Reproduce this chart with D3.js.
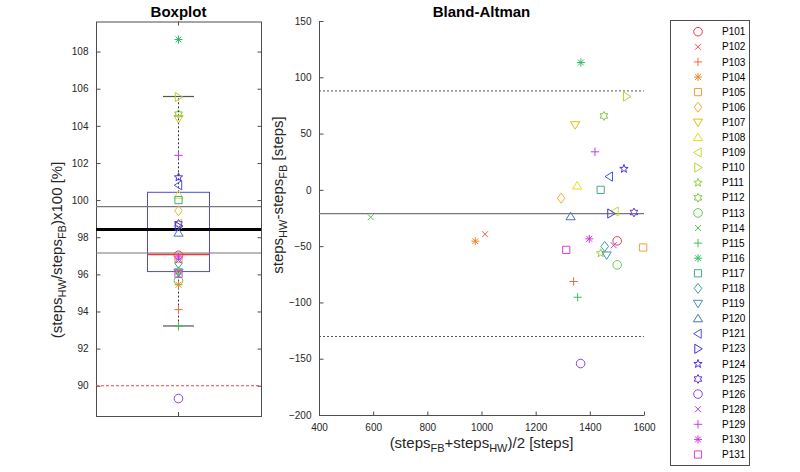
<!DOCTYPE html>
<html><head><meta charset="utf-8">
<script src="https://cdn.jsdelivr.net/npm/d3@7"></script>
<style>
body{margin:0;background:#fff;}
svg{font-family:"Liberation Sans",Arial,Helvetica,sans-serif;}
</style></head>
<body><svg id="chart" width="800" height="472"></svg>
<script>
// ---------------- DATA ----------------
const participants = ["P101","P102","P103","P104","P105","P106","P107","P108","P109","P110","P111","P112","P113","P114","P115","P116","P117","P118","P119","P120","P121","P123","P124","P125","P126","P128","P129","P130","P131"];
const markerTypes = ["o","x","+","*","s","d","v","^","<",">","p","h","o","x","+","*","s","d","v","^","<",">","p","h","o","x","+","*","s"];
const colors = ["#e8394a","#f0584a","#f26a3a","#f5841f","#f59d3b","#eeb030","#dcc010","#e6dc20","#c8d830","#b0d830","#98d040","#7cc840","#60c850","#50c850","#40c050","#2ec060","#40b080","#40a0a0","#4090c0","#4a72c0","#4a50e0","#3a34e0","#5030e0","#6030d8","#8a44e0","#a848e0","#c040e0","#d034e0","#e040c8"];
// Boxplot: (steps_HW/steps_FB)x100 [%]
const ratioPct = [97.03,96.18,94.10,95.44,96.84,99.43,104.38,100.27,98.72,105.55,96.17,104.63,95.66,95.97,93.20,108.65,100.00,96.60,96.11,98.23,100.80,98.59,101.23,98.72,89.31,96.75,102.41,96.94,96.02];
// Bland-Altman: mean steps (x) and difference HW-FB (y)
const baMean = [1501,1013,1340,977,1597,1294,1346,1353,1493,1536,1440,1452,1501,591,1355,1367,1440,1455,1462,1329,1472,1478,1526,1563,1366,1488,1419,1398,1313];
const baDiff = [-45.3,-39.4,-81.4,-45.6,-51.2,-7.4,57.7,3.6,-19.2,82.9,-56.3,65.7,-66.6,-24.3,-95.4,113.1,0,-50.3,-58.0,-23.7,11.8,-21.0,18.7,-20.1,-154.3,-49.2,33.8,-43.5,-53.3];
// box statistics
const boxQ1 = 96.15, boxMedian = 97.07, boxQ3 = 100.42, whiskerLow = 93.22, whiskerHigh = 105.58;
const ratioMean = 98.42, ratioCI = [97.15, 99.65];
const ratioThreshold = 90;
// Bland-Altman lines
const baBias = -21.2, baLoA = [-130.3, 87.9];
// ticks
const boxYTicks = [90,92,94,96,98,100,102,104,106,108];
const boxYDomain = [88.37, 109.62];
const baXTicks = [400,600,800,1000,1200,1400,1600];
const baYTicks = [-200,-150,-100,-50,0,50,100,150];
const baXDomain = [400,1600], baYDomain = [-200,150];

// ---------------- DRAW ----------------
const svg = d3.select("#chart");
svg.append("rect").attr("width",800).attr("height",472).attr("fill","#fff");
const axisCol = "#4d4d4d", tickTxt = "#262626";

function markerPath(t){
  const p = d3.path();
  if(t==="o"){ p.moveTo(4.3,0); p.arc(0,0,4.3,0,2*Math.PI); }
  else if(t==="x"){ const r=3; p.moveTo(-r,-r);p.lineTo(r,r);p.moveTo(-r,r);p.lineTo(r,-r); }
  else if(t==="+"){ const r=4.2; p.moveTo(-r,0);p.lineTo(r,0);p.moveTo(0,-r);p.lineTo(0,r); }
  else if(t==="*"){ const r=4, q=2.9; p.moveTo(-r,0);p.lineTo(r,0);p.moveTo(0,-r);p.lineTo(0,r);p.moveTo(-q,-q);p.lineTo(q,q);p.moveTo(-q,q);p.lineTo(q,-q); }
  else if(t==="s"){ const r=3.6; p.rect(-r,-r,2*r,2*r); }
  else if(t==="d"){ p.moveTo(0,-5);p.lineTo(3.8,0);p.lineTo(0,5);p.lineTo(-3.8,0);p.closePath(); }
  else if(t==="v"){ p.moveTo(-4.6,-3.2);p.lineTo(4.6,-3.2);p.lineTo(0,4.3);p.closePath(); }
  else if(t==="^"){ p.moveTo(-4.6,3.2);p.lineTo(4.6,3.2);p.lineTo(0,-4.3);p.closePath(); }
  else if(t==="<"){ p.moveTo(3.2,-4.6);p.lineTo(3.2,4.6);p.lineTo(-4.3,0);p.closePath(); }
  else if(t===">"){ p.moveTo(-3.2,-4.6);p.lineTo(-3.2,4.6);p.lineTo(4.3,0);p.closePath(); }
  else if(t==="p"){ const R=4.4,r=1.8; for(let i=0;i<10;i++){const a=-Math.PI/2+i*Math.PI/5, rr=i%2?r:R; const x=rr*Math.cos(a),y=rr*Math.sin(a); i?p.lineTo(x,y):p.moveTo(x,y);} p.closePath(); }
  else if(t==="h"){ const R=4.4,r=2.5; for(let i=0;i<12;i++){const a=-Math.PI/2+i*Math.PI/6, rr=i%2?r:R; const x=rr*Math.cos(a),y=rr*Math.sin(a); i?p.lineTo(x,y):p.moveTo(x,y);} p.closePath(); }
  return p.toString();
}

// ======== BOXPLOT ========
const bx0 = 96, bx1 = 261, by0 = 21.5, by1 = 416;
const yBox = d3.scaleLinear().domain(boxYDomain).range([by1,by0]);
const xBox = d3.scaleBand().domain(["box"]).range([bx0,bx1]).paddingInner(0).paddingOuter(0);
const cx = xBox("box") + xBox.bandwidth()/2;
const boxW = 62;
const gB = svg.append("g");

// frame
gB.append("rect").attr("x",bx0+0.5).attr("y",by0+0.5).attr("width",bx1-bx0).attr("height",by1-by0)
  .attr("fill","none").attr("stroke",axisCol).attr("stroke-width",1);
// y axis (left)
const yAxL = d3.axisLeft(yBox).tickValues(boxYTicks).tickSize(-4).tickPadding(8).tickFormat(d3.format("d"));
const gyl = gB.append("g").attr("transform",`translate(${bx0+0.5},0)`).call(yAxL);
gyl.select(".domain").remove();
gyl.selectAll("line").attr("stroke",axisCol);
gyl.selectAll("text").attr("fill",tickTxt).attr("font-size",10).attr("font-family","Liberation Sans, Arial, sans-serif");
const yAxR = d3.axisRight(yBox).tickValues(boxYTicks).tickSize(-4).tickFormat("");
const gyr = gB.append("g").attr("transform",`translate(${bx1+0.5},0)`).call(yAxR);
gyr.select(".domain").remove(); gyr.selectAll("line").attr("stroke",axisCol);
// x ticks at centre, top and bottom
gB.append("line").attr("x1",cx).attr("x2",cx).attr("y1",by1).attr("y2",by1-4).attr("stroke",axisCol);
gB.append("line").attr("x1",cx).attr("x2",cx).attr("y1",by0).attr("y2",by0+4).attr("stroke",axisCol);

// threshold line
gB.append("line").attr("x1",bx0).attr("x2",bx1).attr("y1",yBox(ratioThreshold)).attr("y2",yBox(ratioThreshold))
  .attr("stroke","#e8474a").attr("stroke-width",1).attr("stroke-dasharray","3,2");
// box
gB.append("rect").attr("x",cx-boxW/2).attr("width",boxW).attr("y",yBox(boxQ3)).attr("height",yBox(boxQ1)-yBox(boxQ3))
  .attr("fill","none").attr("stroke","#4a4ae6").attr("stroke-width",1);
// whiskers
[[boxQ3,whiskerHigh],[boxQ1,whiskerLow]].forEach(([a,b])=>{
  gB.append("line").attr("x1",cx).attr("x2",cx).attr("y1",yBox(a)).attr("y2",yBox(b))
    .attr("stroke","#333").attr("stroke-width",1).attr("stroke-dasharray","2,2");
  gB.append("line").attr("x1",cx-boxW/4).attr("x2",cx+boxW/4).attr("y1",yBox(b)).attr("y2",yBox(b))
    .attr("stroke","#555").attr("stroke-width",1.2);
});
// mean and CI lines
ratioCI.forEach(v=>{
  gB.append("line").attr("x1",bx0).attr("x2",bx1).attr("y1",yBox(v)).attr("y2",yBox(v))
    .attr("stroke","#777").attr("stroke-width",1.2);
});
gB.append("line").attr("x1",cx-boxW/2).attr("x2",cx+boxW/2).attr("y1",yBox(boxMedian)).attr("y2",yBox(boxMedian))
  .attr("stroke","#e83a3a").attr("stroke-width",1.3);
gB.append("line").attr("x1",bx0).attr("x2",bx1).attr("y1",yBox(ratioMean)).attr("y2",yBox(ratioMean))
  .attr("stroke","#000").attr("stroke-width",3);
// points
gB.selectAll("path.pt").data(participants).enter().append("path").attr("class","pt")
  .attr("d",(d,i)=>markerPath(markerTypes[i]))
  .attr("transform",(d,i)=>`translate(${cx},${yBox(ratioPct[i])})`)
  .attr("fill","none").attr("stroke",(d,i)=>colors[i]).attr("stroke-width",1);

// title
svg.append("text").attr("x",cx).attr("y",17).attr("text-anchor","middle").attr("font-weight","bold")
  .attr("font-size",15).attr("fill","#000").text("Boxplot");
// y label
const yl1 = svg.append("text").attr("transform",`translate(62,250) rotate(-90)`).attr("text-anchor","middle")
  .attr("font-size",15).attr("fill","#262626");
yl1.append("tspan").text("(steps");
yl1.append("tspan").attr("font-size",11).attr("dy",4).text("HW");
yl1.append("tspan").attr("dy",-4).text("/steps");
yl1.append("tspan").attr("font-size",11).attr("dy",4).text("FB");
yl1.append("tspan").attr("dy",-4).text(")x100 [%]");

// ======== BLAND-ALTMAN ========
const ax0 = 319, ax1 = 644, ay0 = 21, ay1 = 415;
const xBA = d3.scaleLinear().domain(baXDomain).range([ax0,ax1]);
const yBA = d3.scaleLinear().domain(baYDomain).range([ay1,ay0]);
const gA = svg.append("g");
const xAx = d3.axisBottom(xBA).tickValues(baXTicks).tickSize(-4).tickPadding(8).tickFormat(d3.format("d"));
const gx = gA.append("g").attr("transform",`translate(0,${ay1+0.5})`).call(xAx);
const yAx = d3.axisLeft(yBA).tickValues(baYTicks).tickSize(-4).tickPadding(8).tickFormat(d3.format("d"));
const gy = gA.append("g").attr("transform",`translate(${ax0+0.5},0)`).call(yAx);
[gx,gy].forEach(g=>{
  g.select(".domain").attr("stroke",axisCol).attr("d", g===gx ? `M${ax0},0H${ax1}` : `M0,${ay1}V${ay0}`);
  g.selectAll("line").attr("stroke",axisCol);
  g.selectAll("text").attr("fill",tickTxt).attr("font-size",10).attr("font-family","Liberation Sans, Arial, sans-serif");
});
// bias and LoA
gA.append("line").attr("x1",ax0).attr("x2",ax1).attr("y1",yBA(baBias)).attr("y2",yBA(baBias))
  .attr("stroke","#777").attr("stroke-width",1.3);
baLoA.forEach(v=>{
  gA.append("line").attr("x1",ax0).attr("x2",ax1).attr("y1",yBA(v)).attr("y2",yBA(v))
    .attr("stroke","#555").attr("stroke-width",1).attr("stroke-dasharray","2,2");
});
gA.selectAll("path.pt").data(participants).enter().append("path").attr("class","pt")
  .attr("d",(d,i)=>markerPath(markerTypes[i]))
  .attr("transform",(d,i)=>`translate(${xBA(baMean[i])},${yBA(baDiff[i])})`)
  .attr("fill","none").attr("stroke",(d,i)=>colors[i]).attr("stroke-width",1);
svg.append("text").attr("x",(ax0+ax1)/2).attr("y",17).attr("text-anchor","middle").attr("font-weight","bold")
  .attr("font-size",15).attr("fill","#000").text("Bland-Altman");
// x label
const xl = svg.append("text").attr("x",(ax0+ax1)/2).attr("y",448).attr("text-anchor","middle")
  .attr("font-size",15).attr("fill","#262626");
xl.append("tspan").text("(steps");
xl.append("tspan").attr("font-size",11).attr("dy",4).text("FB");
xl.append("tspan").attr("dy",-4).text("+steps");
xl.append("tspan").attr("font-size",11).attr("dy",4).text("HW");
xl.append("tspan").attr("dy",-4).text(")/2 [steps]");
// y label
const yl2 = svg.append("text").attr("transform",`translate(283,195) rotate(-90)`).attr("text-anchor","middle")
  .attr("font-size",15).attr("fill","#262626");
yl2.append("tspan").text("steps");
yl2.append("tspan").attr("font-size",11).attr("dy",4).text("HW");
yl2.append("tspan").attr("dy",-4).text("-steps");
yl2.append("tspan").attr("font-size",11).attr("dy",4).text("FB");
yl2.append("tspan").attr("dy",-4).text(" [steps]");

// ======== LEGEND ========
const lg = svg.append("g");
lg.append("rect").attr("x",670.5).attr("y",20.5).attr("width",79).attr("height",445)
  .attr("fill","#fff").attr("stroke",axisCol).attr("stroke-width",1);
const yLeg = d3.scalePoint().domain(participants).range([31.7,454.5]);
const items = lg.selectAll("g.it").data(participants).enter().append("g").attr("class","it")
  .attr("transform",d=>`translate(0,${yLeg(d)})`);
items.append("path").attr("d",(d,i)=>markerPath(markerTypes[i])).attr("transform","translate(698,0)")
  .attr("fill","none").attr("stroke",(d,i)=>colors[i]).attr("stroke-width",1);
items.append("text").attr("x",722).attr("y",3.6).attr("font-size",10).attr("fill","#000").text(d=>d);
</script></body></html>
